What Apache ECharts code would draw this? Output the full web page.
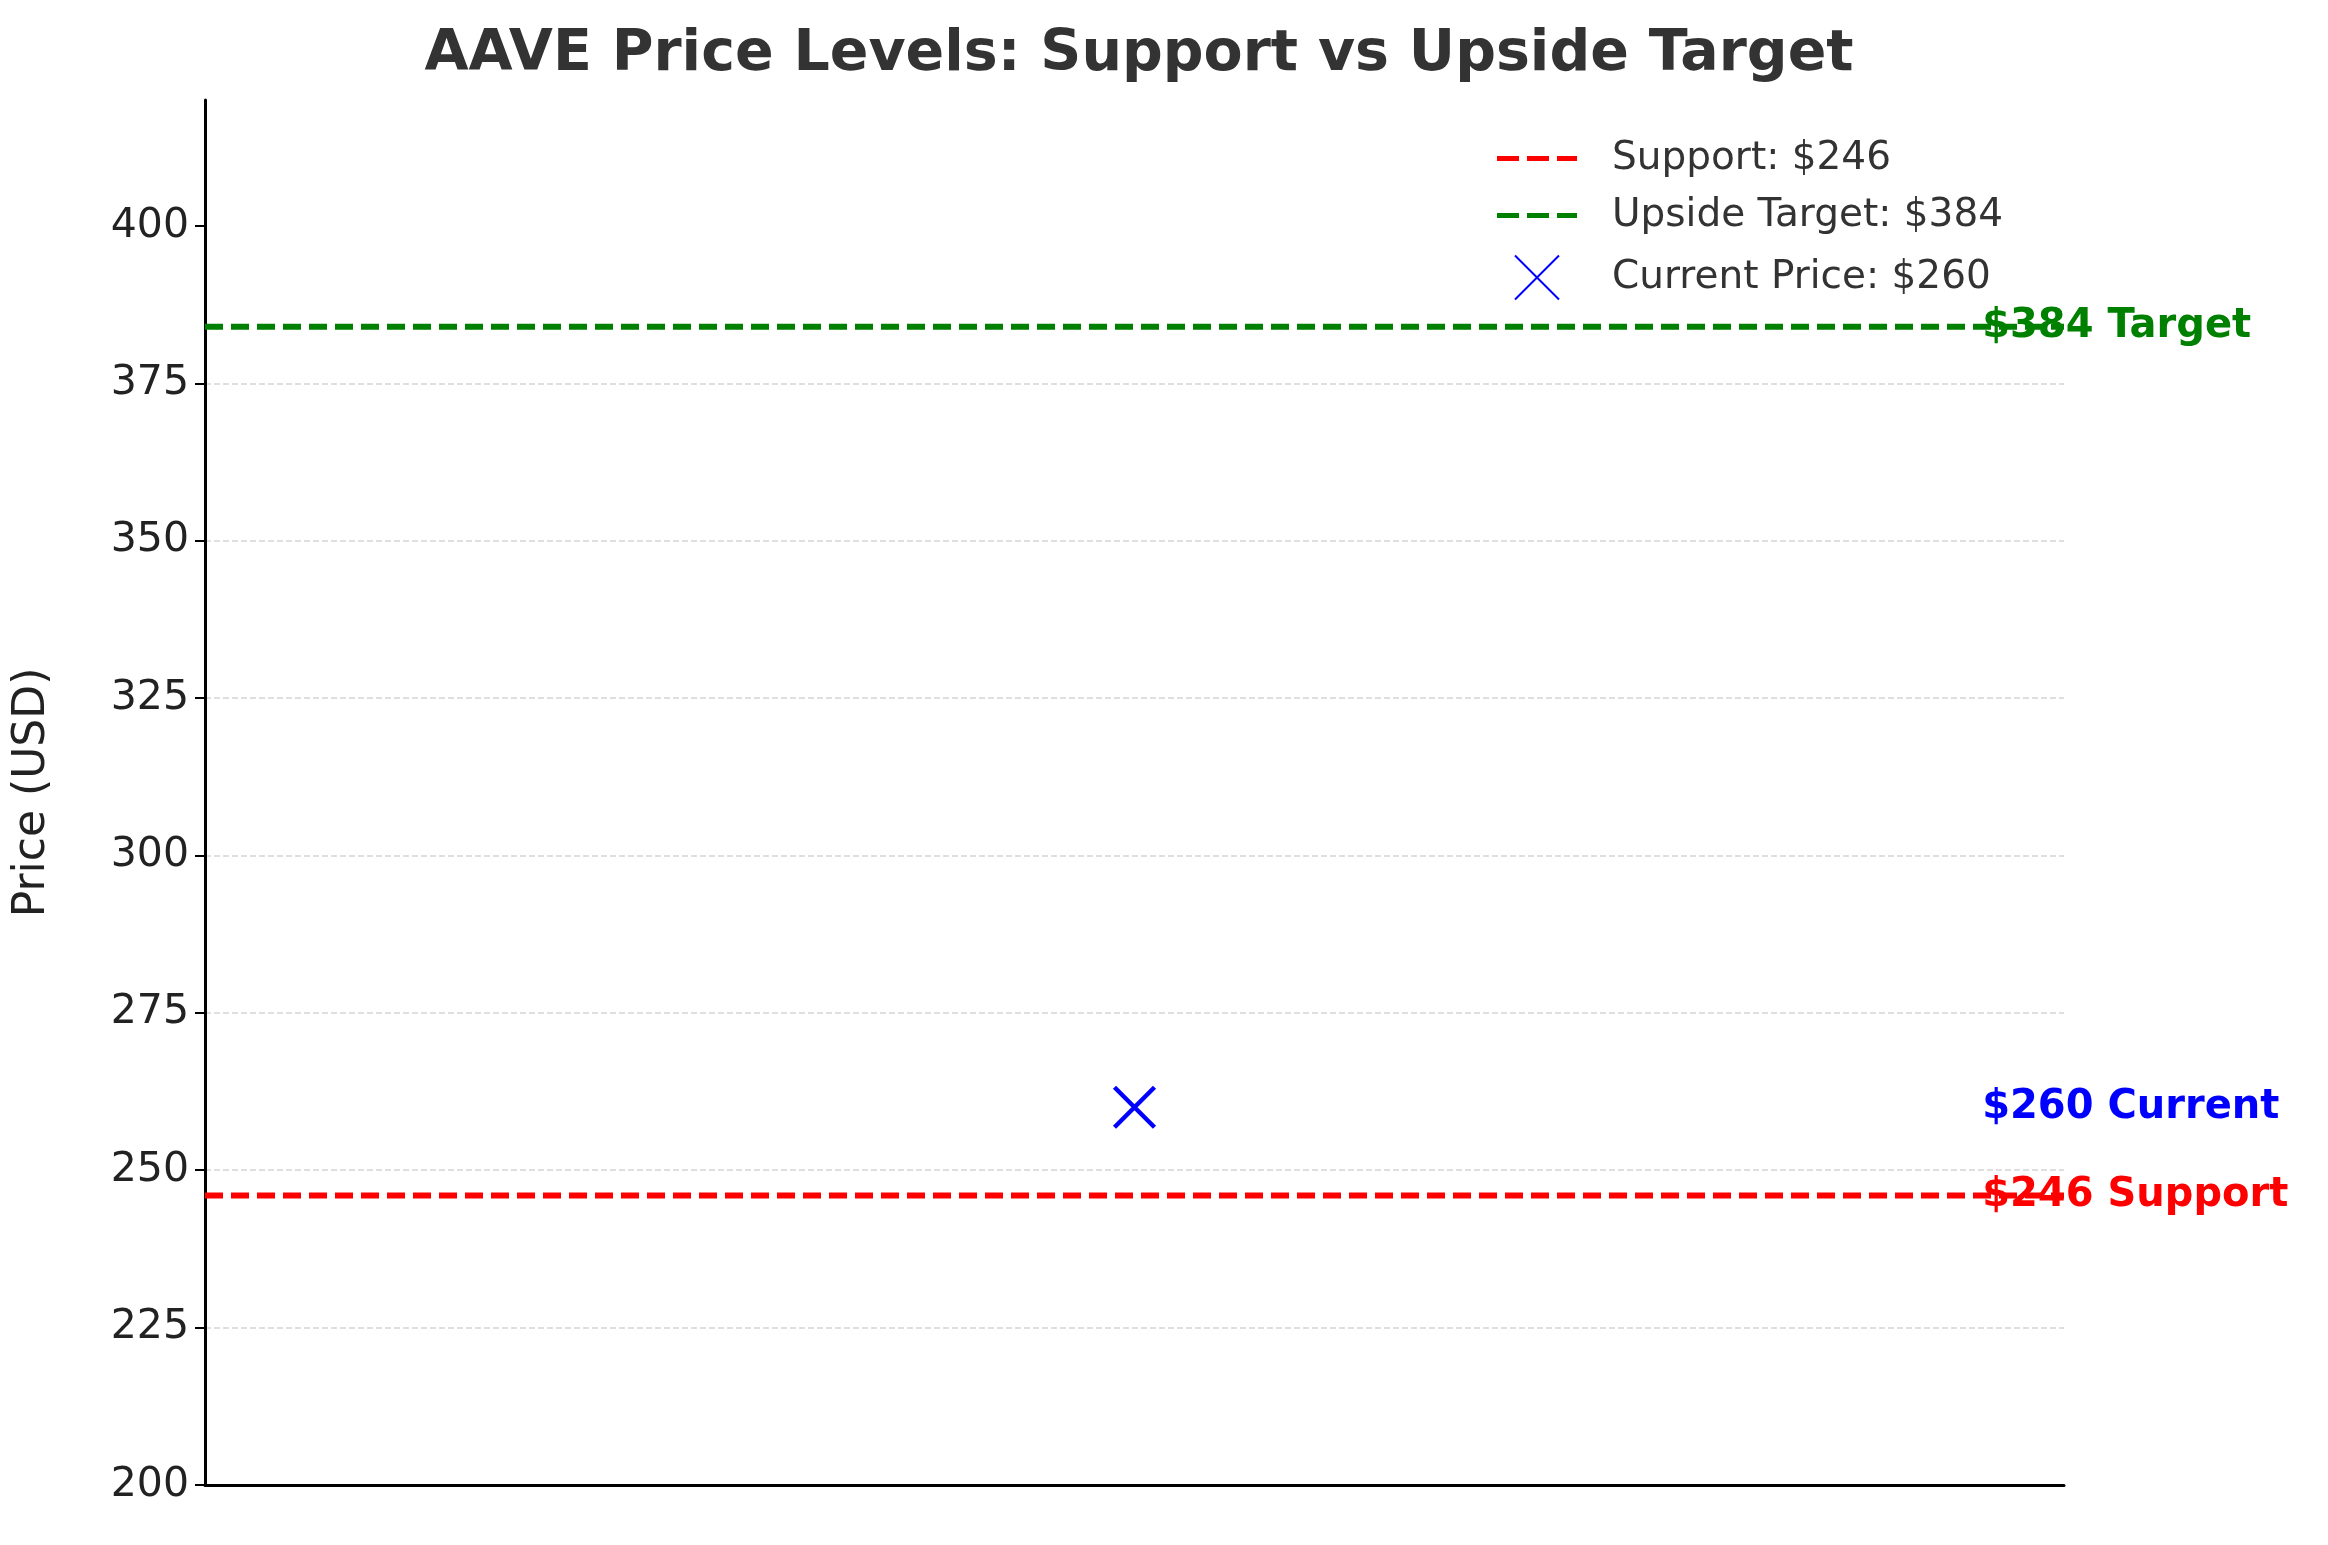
<!DOCTYPE html>
<html><head><meta charset="utf-8">
<script src="https://cdn.jsdelivr.net/npm/echarts@6/dist/echarts.min.js"></script>
<style>html,body{margin:0;padding:0;background:#fff}#c{width:2328px;height:1545px}</style>
</head><body><div id="c"></div>
<script>
const support = 246;
const target = 384;
const current = 260;
const yTicks = [200,225,250,275,300,325,350,375,400];
const labels = ['$246 Support','$384 Target','$260 Current'];
const legendNames = ['Support: $246','Upside Target: $384','Current Price: $260'];

const chart = echarts.init(document.getElementById('c'));
const font = 'DejaVu Sans';
const dashIcon = 'path://M0,0h22v5h-22zM30,0h22v5h-22zM60,0h20v5h-20z';
chart.setOption({
  animation:false,
  textStyle:{fontFamily:font},
  title:{text:'AAVE Price Levels: Support vs Upside Target',left:1134,top:22,textAlign:'center',
    textStyle:{fontSize:57,fontWeight:'bold',color:'#333',fontFamily:font}},
  legend:{orient:'vertical',left:1492,top:134,itemGap:18,itemWidth:80,itemHeight:44,
    textStyle:{fontSize:39,color:'#333',fontFamily:font,padding:[0,0,0,30]},
    data:[{name:legendNames[0],icon:dashIcon,itemStyle:{color:'#ff0000'}},
          {name:legendNames[1],icon:dashIcon,itemStyle:{color:'#008000'}},
          {name:legendNames[2]}]},
  grid:{left:205,right:264,top:100,bottom:60,containLabel:false},
  xAxis:{type:'value',min:0,max:1,show:true,axisLine:{show:true,lineStyle:{color:'#000',width:3}},
    axisTick:{show:false},axisLabel:{show:false},splitLine:{show:false}},
  yAxis:{type:'value',min:200,max:420,interval:25,
    name:'Price (USD)',nameLocation:'middle',nameGap:150,nameRotate:90,
    nameTextStyle:{fontSize:44,color:'#222',fontFamily:font},
    axisLine:{show:true,lineStyle:{color:'#000',width:3}},
    axisTick:{show:true,length:10,lineStyle:{color:'#000',width:2},customValues:yTicks},
    axisLabel:{fontSize:41,color:'#222',margin:16,fontFamily:font,customValues:yTicks},
    splitLine:{show:true,showMaxLine:false,lineStyle:{color:'#d5d5d5',type:'dashed',width:1.5}}},
  series:[
    {name:legendNames[0],type:'line',symbol:'none',data:[[0,support],[1,support]],
      lineStyle:{color:'#ff0000',width:6,type:[18,8]},itemStyle:{color:'#ff0000'},z:3},
    {name:legendNames[1],type:'line',symbol:'none',data:[[0,target],[1,target]],
      lineStyle:{color:'#008000',width:6,type:[18,8]},itemStyle:{color:'#008000'},z:3},
    {name:legendNames[2],type:'scatter',symbol:'path://M0,0L10,10M10,0L0,10',symbolSize:40,
      data:[[0.5,current]],itemStyle:{color:'none',borderColor:'#0000ff',borderWidth:4.5,opacity:1},z:4},
    {type:'scatter',symbolSize:0,silent:true,z:5,itemStyle:{opacity:1},
      data:[[0.956,support],[0.956,target],[0.956,current]].map((d,i)=>({value:d,
        label:{show:true,position:'right',distance:0,formatter:labels[i],fontSize:40,fontWeight:'bold',
          fontFamily:font,color:['#ff0000','#008000','#0000ff'][i]}}))}
  ]
});
</script></body></html>
